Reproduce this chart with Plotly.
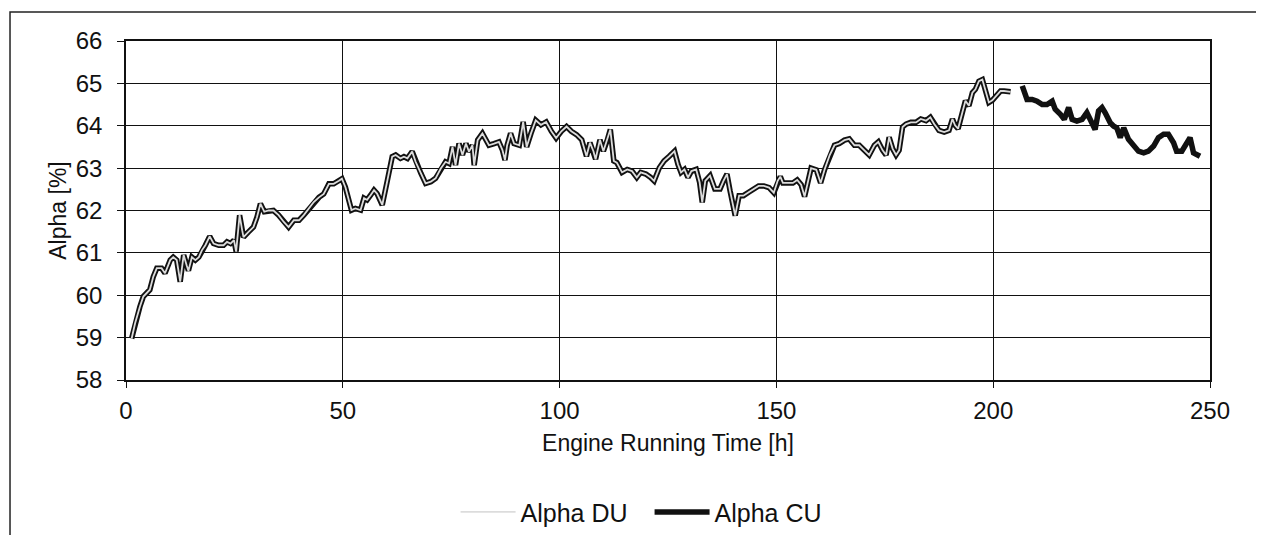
import plotly.graph_objects as go

# Engine running time [h] and Alpha [%]
hours_cu = [1.3, 2.1, 3.2, 4.0, 5.5, 6.3, 7.1, 8.2, 9.0, 10.2, 10.9, 11.7, 12.5, 13.3, 14.0, 14.4,
            15.2, 16.0, 16.8, 17.5, 18.3, 19.3, 20.2, 21.4, 22.5, 23.3, 24.1, 24.9, 25.4, 26.2, 26.8,
            27.1, 28.2, 29.4, 30.2, 31.0, 31.9, 32.9, 34.0, 35.2, 36.4, 37.5, 38.7, 39.9, 41.0, 42.2,
            43.3, 44.5, 45.6, 46.8, 47.9, 49.1, 49.8, 50.6, 51.3, 52.0, 52.9, 54.1, 54.9, 55.6, 56.4,
            57.2, 57.9, 59.1, 60.3, 61.4, 62.2, 63.3, 64.1, 64.9, 66.0, 66.8, 68.0, 69.1, 70.3, 71.4,
            72.6, 73.7, 74.5, 75.3, 76.0, 76.8, 77.6, 78.4, 79.1, 79.9, 80.3, 81.1, 82.2, 83.0, 83.7,
            84.9, 86.0, 86.8, 87.4, 87.9, 88.7, 89.5, 90.7, 91.6, 92.4, 93.4, 94.5, 95.7, 96.9, 98.1,
            99.2, 100.4, 101.6, 102.7, 103.9, 105.1, 106.2, 107.0, 107.8, 108.3, 109.3, 110.1, 110.9,
            111.7, 112.5, 113.2, 114.4, 115.6, 116.7, 117.8, 118.7, 119.9, 121.0, 121.8, 123.0, 124.1,
            125.3, 126.5, 127.3, 128.0, 128.8, 129.6, 130.4, 131.5, 132.3, 132.9, 133.6, 134.7, 135.8,
            137.0, 137.8, 138.6, 139.3, 140.1, 140.5, 141.4, 142.4, 143.6, 144.8, 145.9, 147.1, 148.3,
            149.4, 150.3, 150.9, 151.5, 152.7, 153.8, 154.8, 155.7, 156.5, 157.3, 158.0, 159.2, 160.2,
            161.1, 162.3, 163.4, 164.5, 165.7, 166.8, 168.0, 169.1, 170.3, 171.4, 172.6, 173.5, 174.5,
            175.3, 176.0, 176.8, 177.6, 178.3, 179.1, 179.9, 181.0, 182.2, 183.3, 184.5, 185.5, 186.4,
            187.5, 188.7, 189.8, 190.6, 191.2, 191.9, 192.9, 193.6, 194.4, 195.2, 195.9, 196.7, 197.5,
            198.2, 199.0, 199.8, 200.9, 201.7, 202.5, 204.0, 205.3, 206.7, 207.8, 209.0, 210.1, 211.3,
            212.4, 213.6, 214.3, 215.5, 216.4, 217.4, 218.2, 219.3, 220.5, 221.6, 222.4, 223.5, 224.3,
            225.1, 225.8, 227.0, 227.8, 228.5, 229.3, 230.1, 231.2, 232.4, 233.5, 234.7, 235.8, 237.0,
            238.1, 239.3, 240.4, 241.6, 242.3, 243.5, 244.6, 245.4, 246.2, 247.7]

alpha_cu = [58.98, 59.34, 59.73, 59.97, 60.13, 60.44, 60.64, 60.64, 60.52, 60.83, 60.9, 60.83, 60.32,
            60.95, 60.7, 60.58, 60.9, 60.83, 60.9, 61.06, 61.18, 61.39, 61.22, 61.18, 61.18, 61.26,
            61.22, 61.3, 61.03, 61.89, 61.53, 61.37, 61.49, 61.61, 61.84, 62.16, 61.97, 62.0, 62.0,
            61.89, 61.73, 61.61, 61.77, 61.77, 61.89, 62.04, 62.2, 62.31, 62.39, 62.63, 62.63, 62.7,
            62.75, 62.55, 62.3, 62.01, 62.05, 62.01, 62.29, 62.25, 62.36, 62.48, 62.4, 62.13, 62.72,
            63.27, 63.31, 63.23, 63.27, 63.23, 63.39, 63.15, 62.88, 62.64, 62.68, 62.76, 62.99, 63.15,
            63.11, 63.5, 63.07, 63.58, 63.31, 63.58, 63.39, 63.54, 63.07, 63.66, 63.82, 63.66, 63.54,
            63.58, 63.62, 63.43, 63.19, 63.54, 63.82, 63.58, 63.54, 64.09, 63.5, 63.82, 64.13, 64.02,
            64.09, 63.87, 63.71, 63.87, 63.98, 63.87, 63.79, 63.67, 63.28, 63.6, 63.4, 63.21, 63.67,
            63.4, 63.63, 63.91, 63.17, 63.13, 62.9, 62.97, 62.93, 62.78, 62.9, 62.86, 62.78, 62.7,
            63.01, 63.17, 63.28, 63.4, 63.09, 62.9, 62.97, 62.78, 62.93, 62.97, 62.66, 62.19, 62.7,
            62.82, 62.51, 62.51, 62.7, 62.86, 62.47, 62.12, 61.88, 62.35, 62.35, 62.43, 62.51, 62.58,
            62.58, 62.54, 62.42, 62.7, 62.8, 62.65, 62.65, 62.65, 62.72, 62.61, 62.33, 62.72, 63.0,
            62.96, 62.65, 62.96, 63.31, 63.54, 63.58, 63.66, 63.69, 63.54, 63.54, 63.42, 63.31, 63.54,
            63.62, 63.42, 63.31, 63.73, 63.46, 63.31, 63.42, 63.97, 64.04, 64.08, 64.08, 64.16, 64.12,
            64.2, 64.04, 63.89, 63.85, 63.89, 64.16, 64.01, 63.93, 64.32, 64.59, 64.47, 64.78, 64.86,
            65.05, 65.09, 64.82, 64.55, 64.6, 64.74, 64.82, 64.82, 64.8, None, 64.94, 64.62, 64.62,
            64.58, 64.5, 64.5, 64.58, 64.39, 64.27, 64.15, 64.43, 64.15, 64.11, 64.15, 64.31, 64.15,
            63.91, 64.35, 64.43, 64.31, 64.07, 63.99, 63.95, 63.72, 63.95, 63.68, 63.52, 63.4, 63.36,
            63.4, 63.52, 63.72, 63.8, 63.8, 63.6, 63.4, 63.4, 63.6, 63.72, 63.36, 63.28]

# Alpha DU coincides with Alpha CU (within line width) and ends at 204 h
du_last_hour = 204.0
n_du = hours_cu.index(du_last_hour) + 1
hours_du = hours_cu[:n_du]
alpha_du = alpha_cu[:n_du]

x_ticks = [0, 50, 100, 150, 200, 250]
y_ticks = [58, 59, 60, 61, 62, 63, 64, 65, 66]

FONT = "Liberation Sans, Arial, sans-serif"

fig = go.Figure()
fig.add_trace(go.Scatter(x=hours_cu, y=alpha_cu, mode="lines", name="Alpha CU",
                         line=dict(color="#111111", width=5.5), legendrank=2))
fig.add_trace(go.Scatter(x=hours_du, y=alpha_du, mode="lines", name="Alpha DU",
                         line=dict(color="#dcdcdc", width=1.8), legendrank=1))

# outer chart border
fig.add_shape(type="rect", xref="paper", yref="paper", x0=-0.107, x1=1.045, y0=-0.6, y1=1.0855,
              line=dict(color="#222222", width=1.5), layer="below")

fig.update_layout(
    width=1248, height=527,
    margin=dict(l=118, r=46, t=33, b=155, autoexpand=False),
    paper_bgcolor="white", plot_bgcolor="white",
    font=dict(family=FONT, color="#111111", size=24),
    showlegend=True,
    legend=dict(orientation="h", x=0.483, xanchor="center", y=-0.39, yanchor="middle",
                font=dict(size=25), itemwidth=55, entrywidth=124, entrywidthmode="pixels",
                bgcolor="rgba(0,0,0,0)"),
    xaxis=dict(range=[0, 250], tickvals=x_ticks, showgrid=True, gridcolor="#111111", gridwidth=1,
               zeroline=False, showline=True, linecolor="#111111", linewidth=1.5, mirror=True,
               ticks="outside", ticklen=6, tickcolor="#111111", tickfont=dict(size=24),
               ticklabelstandoff=2,
               title=dict(text="Engine Running Time [h]", font=dict(size=23), standoff=12)),
    yaxis=dict(range=[58, 66], tickvals=y_ticks, showgrid=True, gridcolor="#111111", gridwidth=1,
               zeroline=False, showline=True, linecolor="#111111", linewidth=1.5, mirror=True,
               ticks="outside", ticklen=7, tickcolor="#111111", tickfont=dict(size=24),
               ticklabelstandoff=10,
               title=dict(text="Alpha [%]", font=dict(size=23), standoff=3)),
)

fig.write_html("out.html")
